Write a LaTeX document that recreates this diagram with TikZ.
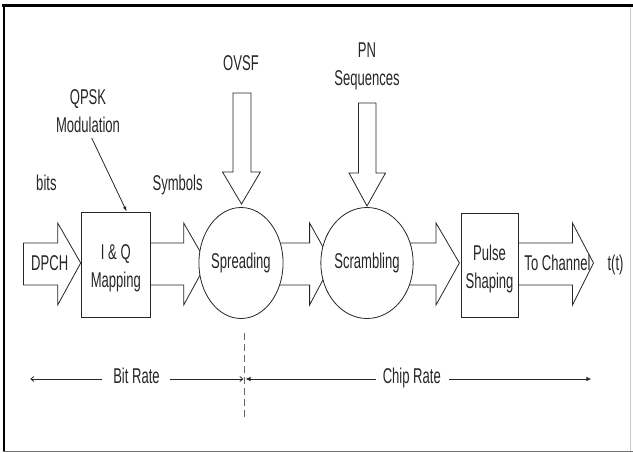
\documentclass[tikz,border=0pt]{standalone}
\usepackage{fontspec}
\setmainfont{Liberation Sans}[FakeStretch=0.61]
\usetikzlibrary{shapes.geometric,arrows.meta}
\begin{document}
\begin{tikzpicture}[x=1pt,y=-1pt,
  ln/.style={draw=black!85, line width=0.8pt},
  blk/.style={ln, fill=white},
  txt/.style={font=\fontsize{21.4}{28}\selectfont, align=center, inner sep=0pt, text=black!85},
  box/.style={ln, fill=white, rectangle, inner sep=0pt},
  ell/.style={ln, fill=white, ellipse, minimum width=67.5pt, minimum height=111pt, inner sep=0pt,
              font=\fontsize{21.4}{28}\selectfont, text=black!85}]
\useasboundingbox (0,0) rectangle (633,453);
% frame
\draw[black, line width=3pt] (2,5.5) -- (633,5.5);
\draw[black, line width=2pt] (3.5,4) -- (3.5,452);
\draw[black!55, line width=1.6pt] (2.5,451.5) -- (633,451.5);
\draw[black!20, line width=0.8pt] (630,7) -- (630,451);

% horizontal block arrows
\draw[blk] (23.4,243) -- (57.7,243) -- (57.7,223) -- (80.7,263) -- (57.7,305) -- (57.7,285) -- (23.4,285) -- cycle;
\draw[blk] (145,243) -- (183.7,243) -- (183.7,223) -- (206.7,263) -- (183.7,305) -- (183.7,285) -- (145,285);
\draw[blk] (265,243) -- (309.6,243) -- (309.6,223) -- (331.9,263) -- (309.6,305) -- (309.6,285) -- (265,285);
\draw[blk] (392,243) -- (436,243) -- (436,223) -- (459.4,263) -- (436,305) -- (436,285) -- (392,285);
\draw[blk] (512,243) -- (572.5,243) -- (572.5,223) -- (593.5,263) -- (572.5,305) -- (572.5,285) -- (512,285);

% vertical block arrows
\draw[blk] (233,93) -- (251,93) -- (251,172) -- (260.4,172) -- (241.5,204) -- (222.5,172) -- (233,172) -- cycle;
\draw[blk] (358.5,103) -- (376,103) -- (376,173) -- (385.5,173) -- (367,206) -- (349,173) -- (358.5,173) -- cycle;

% blocks
\node[box, minimum width=68.7pt, minimum height=105pt] (iq) at (115.85,264.5) {};
\node[txt] (iqt) at (115.85,268) {I \& Q\\Mapping};
\node[ell] (spr) at (241,263) {Spreading};
\node[ell] (scr) at (367,263) {Scrambling};
\node[box, minimum width=57pt, minimum height=104pt] (ps) at (489.5,265) {};
\node[txt] (pst) at (489.5,268.5) {Pulse\\Shaping};

% labels
\node[txt, anchor=base] (dpch) at (49.7,270.6) {DPCH};
\node[txt, anchor=base] (toch) at (557.5,270.6) {To Channel};
\node[txt, anchor=base] (tt) at (615.5,270.6) {t(t)};
\node[txt, anchor=base] (bits) at (46.4,190.6) {bits};
\node[txt, anchor=base] (sym) at (177.6,190.6) {Symbols};
\node[txt, anchor=base] (ovsf) at (241,70.6) {OVSF};
\node[txt] (qpsk) at (88,111) {QPSK\\Modulation};
\node[txt] (pn) at (367,66.3) {PN\\Sequences};

% pointer
\coordinate (qp0) at (91.7,138);
\coordinate (qp1) at (126.7,211.5);
\draw[ln, -{Latex[length=5pt,width=3.5pt]}] (qp0) -- (qp1);

% dashed divider
\coordinate (d0) at (244.2,333);
\coordinate (d1) at (244.2,417);
\draw[black!60, line width=0.8pt, dash pattern=on 7pt off 4pt] (d0) -- (d1);

% rate arrows
\node[txt, anchor=base] (br) at (136.5,383.8) {Bit Rate};
\node[txt, anchor=base] (cr) at (411.8,383.8) {Chip Rate};
\coordinate (b0) at (30.3,379);
\coordinate (b1) at (101.7,379);
\coordinate (b2) at (170,379);
\coordinate (b3) at (243.4,379);
\coordinate (c0) at (245.5,379);
\coordinate (c1) at (375.5,379);
\coordinate (c2) at (449,379);
\coordinate (c3) at (591.4,379);
\draw[ln, {Straight Barb[length=3pt,width=5pt]}-] (b0) -- (b1);
\draw[ln, -{Straight Barb[length=3pt,width=5pt]}] (b2) -- (b3);
\draw[ln, {Latex[length=5pt,width=4.5pt]}-] (c0) -- (c1);
\draw[ln, -{Latex[length=5pt,width=4.5pt]}] (c2) -- (c3);
\end{tikzpicture}
\end{document}
